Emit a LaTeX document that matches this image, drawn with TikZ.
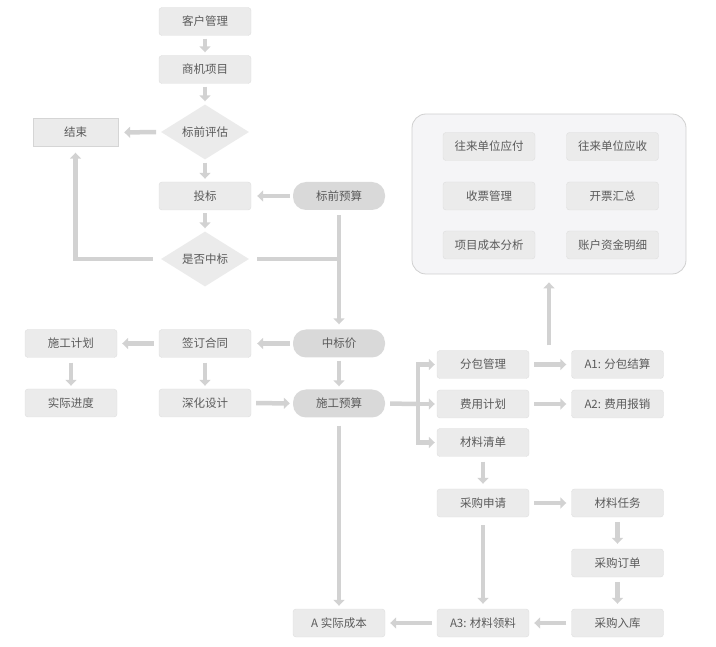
\documentclass[tikz,border=0pt]{standalone}
\usepackage{fontspec}
\setmainfont{Noto Sans CJK SC}
\usetikzlibrary{shapes,arrows.meta}
\definecolor{boxfill}{HTML}{EBEBEB}
\definecolor{boxline}{HTML}{DEDEDE}
\definecolor{pillfill}{HTML}{D9D9D9}
\definecolor{flowcol}{HTML}{D2D2D2}
\definecolor{txtcol}{HTML}{5A5A5A}
\definecolor{panelfill}{HTML}{F5F5F7}

\begin{document}
\begin{tikzpicture}[x=1pt,y=-1pt,
	font=\fontsize{11.5}{13}\selectfont, text=txtcol,
	box/.style={draw=boxline, fill=boxfill, rounded corners=3pt,
		minimum width=92pt, minimum height=28pt, inner sep=0pt},
	pill/.style={box, draw=none, fill=pillfill, rounded corners=13pt},
	decide/.style={diamond, fill=boxfill, inner sep=0pt, aspect=1.6,
		minimum width=88pt, minimum height=55pt},
	line/.style={draw=flowcol, line width=4.5pt},
	flow/.style={line, -{Triangle[width=11pt,length=6pt]},
		shorten <=3pt, shorten >=3pt}]
	\useasboundingbox (0,0) rectangle (716,647);

	% left column
	\node[box] (kh) at (205,21.5) {客户管理};
	\node[box] (sj) at (205,69.5) {商机项目};
	\node[decide] (pg) at (205,132) {标前评估};
	\node[box, rounded corners=0pt, minimum width=85pt, draw=boxline!90!gray] (js) at (75.5,132.5) {结束};
	\node[box] (tb) at (205,196) {投标};
	\node[pill] (bq) at (339,196) {标前预算};
	\node[decide] (sf) at (205,259) {是否中标};
	\node[pill] (zb) at (339,343.5) {中标价};
	\node[box] (qd) at (205,343.5) {签订合同};
	\node[box] (sg) at (71,343.5) {施工计划};
	\node[box] (jd) at (71,403) {实际进度};
	\node[box] (sh) at (205,403) {深化设计};
	\node[pill] (ys) at (339,403.5) {施工预算};
	\node[box] (cb) at (339,623) {A 实际成本};

	% right column
	\node[box] (fb) at (483,364.5) {分包管理};
	\node[box] (fy) at (483,404) {费用计划};
	\node[box] (cl) at (483,442.5) {材料清单};
	\node[box] (sq) at (483,503) {采购申请};
	\node[box] (ll) at (483,623) {A3: 材料领料};
	\node[box] (a1) at (617.5,364.5) {A1: 分包结算};
	\node[box] (a2) at (617.5,404) {A2: 费用报销};
	\node[box] (rw) at (617.5,503) {材料任务};
	\node[box] (dd) at (617.5,563) {采购订单};
	\node[box] (rk) at (617.5,623) {采购入库};

	% report panel
	\node[draw=boxline!85!gray, fill=panelfill, rounded corners=14pt, line width=0.8pt,
		minimum width=274pt, minimum height=160pt] (pnl) at (549,194) {};
	\node[box] (yf) at (489,146.5) {往来单位应付};
	\node[box] (yk) at (612.5,146.5) {往来单位应收};
	\node[box] (sp) at (489,196) {收票管理};
	\node[box] (kp) at (612.5,196) {开票汇总};
	\node[box] (fx) at (489,245) {项目成本分析};
	\node[box] (zh) at (612.5,245) {账户资金明细};

	% connectors
	\draw[flow] (kh) -- (sj);
	\draw[flow] (sj) -- (pg);
	\draw[flow, shorten <=5pt, shorten >=6pt] (pg) -- (js);
	\draw[flow] (pg) -- (tb);
	\draw[flow, shorten <=3pt, shorten >=6pt] (bq) -- (tb);
	\draw[flow] (tb) -- (sf);
	\draw[flow, shorten <=8pt, shorten >=6pt] (sf.west) -| (js.south);
	\draw[line, shorten <=8pt] (sf.east) -- (sf.east -| bq.south);
	\draw[flow, shorten <=5pt, shorten >=5pt] (bq) -- (zb);
	\draw[flow, shorten <=3pt, shorten >=6pt] (zb) -- (qd);
	\draw[flow, shorten <=5pt, shorten >=5pt] (qd) -- (sg);
	\draw[flow, shorten <=5pt] (sg) -- (jd);
	\draw[flow, shorten <=5pt] (qd) -- (sh);
	\draw[flow] (zb) -- (ys);
	\draw[flow, shorten <=5pt, shorten >=3pt] (sh) -- (ys);
	\draw[flow, shorten <=8pt] (ys) -- (cb);

	\coordinate (br) at (418,404);
	\draw[line, shorten <=5pt] (ys.east) -- (br);
	\draw[flow, shorten <=0pt, shorten >=2pt] (br) |- (fb.west);
	\draw[flow, shorten <=0pt, shorten >=2pt] (br) -- (fy.west);
	\draw[flow, shorten <=0pt, shorten >=2pt] (br) |- (cl.west);

	\draw[flow, shorten <=5pt, shorten >=5pt] (fb) -- (a1);
	\draw[flow, shorten <=5pt, shorten >=5pt] (fy) -- (a2);
	\draw[flow, shorten <=19pt, shorten >=8pt] (fb.east -| pnl.south) -- (pnl.south);
	\draw[flow, shorten <=5pt, shorten >=5pt] (cl) -- (sq);
	\draw[flow, shorten <=5pt, shorten >=5pt] (sq) -- (rw);
	\draw[flow, shorten <=5pt, shorten >=5pt] (rw) -- (dd);
	\draw[flow, shorten <=5pt, shorten >=5pt] (dd) -- (rk);
	\draw[flow, shorten <=5pt, shorten >=5pt] (rk) -- (ll);
	\draw[flow, shorten <=8pt, shorten >=5pt] (sq) -- (ll);
	\draw[flow, shorten <=5pt, shorten >=5pt] (ll) -- (cb);

\end{tikzpicture}
\end{document}
